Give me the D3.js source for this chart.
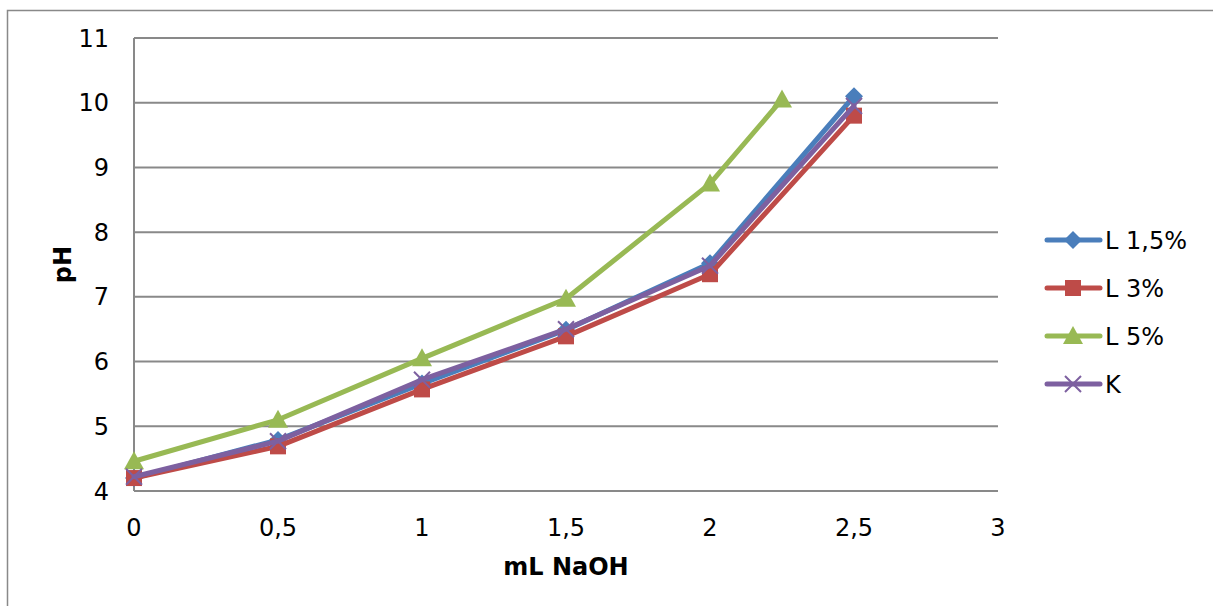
<!DOCTYPE html>
<html>
<head>
<meta charset="utf-8">
<script src="https://cdn.jsdelivr.net/npm/d3@7"></script>
<style>
  body { margin: 0; background: #fff; }
  svg { display: block; font-family: "DejaVu Sans", Verdana, sans-serif; }
</style>
</head>
<body>
<svg id="chart" width="1213" height="606"></svg>
<script>
const xValues = [0, 0.5, 1, 1.5, 2, 2.5];
const xValuesL5 = [0, 0.5, 1, 1.5, 2, 2.25];
const l15 = [4.2, 4.79, 5.66, 6.49, 7.52, 10.1];
const l3 = [4.2, 4.69, 5.57, 6.39, 7.35, 9.8];
const l5 = [4.46, 5.1, 6.05, 6.97, 8.75, 10.05];
const k = [4.22, 4.77, 5.72, 6.5, 7.48, 9.95];
const xTicks = [0, 0.5, 1, 1.5, 2, 2.5, 3];
const yTicks = [4, 5, 6, 7, 8, 9, 10, 11];

const series = [
  { name: "L 1,5%", xs: xValues, ys: l15, color: "#4a7ebb", marker: "diamond" },
  { name: "L 3%", xs: xValues, ys: l3, color: "#be4b48", marker: "square" },
  { name: "L 5%", xs: xValuesL5, ys: l5, color: "#98b954", marker: "triangle" },
  { name: "K", xs: xValues, ys: k, color: "#7d60a0", marker: "x" }
];

const svg = d3.select("#chart");
const grid = "#898989";

// outer chart frame (runs past the right and bottom edge)
svg.append("path")
  .attr("d", "M7.5,620 V10.5 H1230")
  .attr("fill", "none")
  .attr("stroke", grid)
  .attr("stroke-width", 1.5);

const x = d3.scaleLinear().domain([0, 3]).range([134, 998]);
const y = d3.scaleLinear().domain([4, 11]).range([491, 38]);

const fmt = d => String(d).replace(".", ",");

// gridlines
svg.append("g")
  .selectAll("line")
  .data(yTicks)
  .join("line")
  .attr("x1", x(0))
  .attr("x2", x(3))
  .attr("y1", d => y(d))
  .attr("y2", d => y(d))
  .attr("stroke", grid)
  .attr("stroke-width", 2);

svg.append("line")
  .attr("x1", x(0)).attr("x2", x(0))
  .attr("y1", y(11)).attr("y2", y(4))
  .attr("stroke", grid)
  .attr("stroke-width", 2);

// tick labels
svg.append("g")
  .style("font-size", "24px")
  .selectAll("text")
  .data(yTicks)
  .join("text")
  .attr("x", 109)
  .attr("y", d => y(d))
  .attr("dy", "0.36em")
  .attr("text-anchor", "end")
  .text(d => d);

svg.append("g")
  .style("font-size", "24px")
  .selectAll("text")
  .data(xTicks)
  .join("text")
  .attr("x", d => x(d))
  .attr("y", 527)
  .attr("dy", "0.36em")
  .attr("text-anchor", "middle")
  .text(fmt);

// axis titles
svg.append("text")
  .attr("x", (x(0) + x(3)) / 2)
  .attr("y", 566)
  .attr("dy", "0.36em")
  .attr("text-anchor", "middle")
  .style("font-size", "24px")
  .style("font-weight", "bold")
  .text("mL NaOH");

svg.append("text")
  .attr("transform", `translate(62,${(y(4) + y(11)) / 2}) rotate(-90)`)
  .attr("dy", "0.36em")
  .attr("text-anchor", "middle")
  .style("font-size", "24px")
  .style("font-weight", "bold")
  .text("pH");

function markerPath(type) {
  switch (type) {
    case "diamond": return "M0,-9 L9,0 L0,9 L-9,0 Z";
    case "square": return "M-8,-8 H8 V8 H-8 Z";
    case "triangle": return "M0,-10 L10,8 L-10,8 Z";
    default: return "M-8,-8 L8,8 M-8,8 L8,-8";
  }
}

function drawMarker(g, s) {
  const p = g.append("path").attr("d", markerPath(s.marker));
  if (s.marker === "x") {
    p.attr("fill", "none").attr("stroke", s.color).attr("stroke-width", 2);
  } else {
    p.attr("fill", s.color);
  }
}

const line = d3.line().x(d => x(d[0])).y(d => y(d[1]));

series.forEach(s => {
  const pts = s.xs.map((v, i) => [v, s.ys[i]]);
  const g = svg.append("g");
  g.append("path")
    .attr("d", line(pts))
    .attr("fill", "none")
    .attr("stroke", s.color)
    .attr("stroke-width", 5)
    .attr("stroke-linejoin", "round")
    .attr("stroke-linecap", "round");
  pts.forEach(p => {
    const m = g.append("g").attr("transform", `translate(${x(p[0])},${y(p[1])})`);
    drawMarker(m, s);
  });
});

// legend
const legend = svg.append("g");
series.forEach((s, i) => {
  const ly = 240 + i * 48;
  const g = legend.append("g").attr("transform", `translate(0,${ly})`);
  g.append("line")
    .attr("x1", 1047).attr("x2", 1100)
    .attr("stroke", s.color)
    .attr("stroke-width", 5)
    .attr("stroke-linecap", "round");
  const m = g.append("g").attr("transform", "translate(1073,0)");
  drawMarker(m, s);
  g.append("text")
    .attr("x", 1105)
    .attr("dy", "0.36em")
    .style("font-size", "24px")
    .text(s.name);
});
</script>
</body>
</html>
